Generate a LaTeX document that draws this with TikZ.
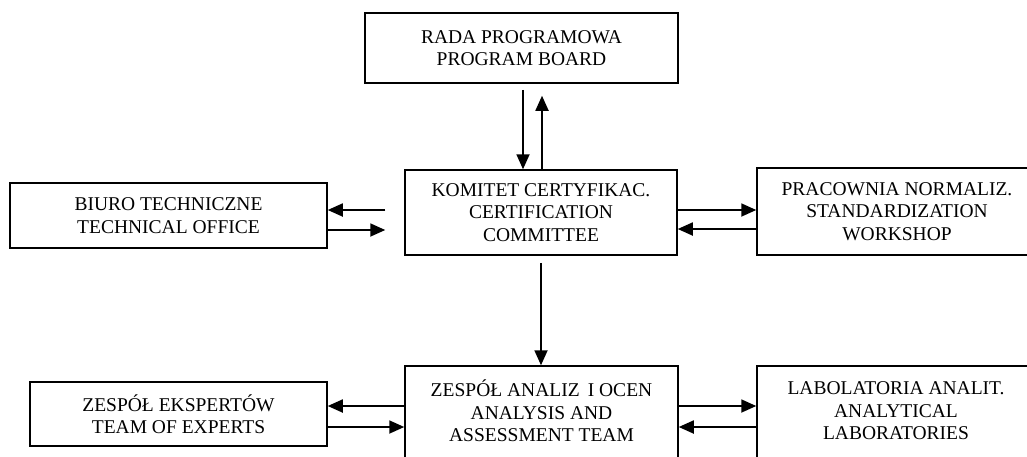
\documentclass[tikz,border=0pt]{standalone}
\usepackage{fontspec}
\setmainfont{Liberation Serif}
\usetikzlibrary{arrows.meta}
\begin{document}
\begin{tikzpicture}[x=1pt,y=-1pt,
  txt/.style={inner sep=0pt, align=center, font=\fontsize{19.5}{22.5}\selectfont},
  box/.style={txt, draw, line width=1.5pt},
  link/.style={line width=1.8pt, -{Triangle[length=15pt,width=13pt]}}]
\useasboundingbox (0,0) rectangle (1027,456);
\clip (0,0) rectangle (1027,456);
\fill[white] (0,0) rectangle (1027,456);

% top and middle row
\node[box, minimum width=313pt, minimum height=70pt] (board) at (521.5,48)
  {RADA PROGRAMOWA\\PROGRAM BOARD};
\node[box, minimum width=272pt, minimum height=85pt] (kom) at (541,212.5)
  {KOMITET CERTYFIKAC.\\CERTIFICATION\\COMMITTEE};
\node[box, minimum width=317pt, minimum height=65pt] (biuro) at (168.5,215.5)
  {BIURO TECHNICZNE\\TECHNICAL OFFICE};
\node[box, minimum width=280pt, minimum height=87pt] (prac) at (897,211.5)
  {PRACOWNIA NORMALIZ.\\STANDARDIZATION\\WORKSHOP};

% bottom row
\node[box, minimum width=297pt, minimum height=64pt] (eks) at (178.5,414)
  {ZESPÓŁ EKSPERTÓW\\TEAM OF EXPERTS};
\node[draw, line width=1.5pt, inner sep=0pt, minimum width=273pt, minimum height=114pt] (analiz) at (541.5,423) {};
\node[txt] (analizText) at (541.5,411) {ZESPÓŁ ANALIZ\,\ I OCEN\\ANALYSIS AND\\ASSESSMENT TEAM};
\node[draw, line width=1.5pt, inner sep=0pt, minimum width=280pt, minimum height=114pt] (lab) at (897,423) {};
\node[txt] (labText) at (896,411) {LABOLATORIA ANALIT.\\ANALYTICAL\\LABORATORIES};

% board <-> committee
\draw[link] ([xshift=1.5pt,yshift=-6pt]board.south) -- ([xshift=-18pt]kom.north);
\draw[link] ([xshift=1pt]kom.north) -- ([xshift=20.5pt,yshift=-12pt]board.south);

% committee <-> technical office
\draw[link] ([xshift=-19pt,yshift=2.5pt]kom.west) -- ([yshift=5.5pt]biuro.east);
\draw[link] ([yshift=-14.5pt]biuro.east) -- ([xshift=-19pt,yshift=-17.5pt]kom.west);

% committee <-> workshop
\draw[link] ([yshift=2.5pt]kom.east) -- ([yshift=1.5pt]prac.west);
\draw[link] ([yshift=-17.5pt]prac.west) -- ([yshift=-16.5pt]kom.east);

% committee -> analysis team
\draw[link] ([yshift=-7pt]kom.south) -- (kom.south |- analiz.north);

% analysis team <-> experts
\draw[link] ([yshift=17pt]analiz.west) -- ([yshift=8pt]eks.east);
\draw[link] ([yshift=-13pt]eks.east) -- ([yshift=-4pt]analiz.west);

% analysis team <-> laboratories
\draw[link] ([yshift=17pt]analiz.east) -- ([yshift=17pt]lab.west);
\draw[link] ([yshift=-4pt]lab.west) -- ([yshift=-4pt]analiz.east);
\end{tikzpicture}
\end{document}
